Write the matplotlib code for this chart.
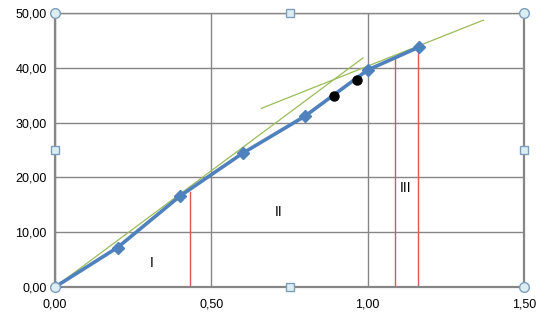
import matplotlib
matplotlib.use("Agg")
import matplotlib.pyplot as plt

# measured curve (blue diamonds)
x_vals = [0.0, 0.2, 0.4, 0.6, 0.8, 1.0, 1.165]
y_vals = [0.0, 7.2, 16.6, 24.4, 31.2, 39.6, 43.8]

# extra black points
dot_x = [0.892, 0.966]
dot_y = [34.8, 37.7]

# tangent lines (green)
tan1_x = [0.0, 0.985]
tan1_y = [0.0, 41.8]
tan2_x = [0.66, 1.37]
tan2_y = [32.6, 48.7]

# red vertical markers: x position and top
red_x = [0.433, 1.087, 1.162]
red_top = [17.4, 42.0, 43.8]

# zone labels
zone_text = ["I", "II", "III"]
zone_x = [0.31, 0.715, 1.12]
zone_y = [4.3, 13.6, 18.0]

x_ticks = [0.0, 0.5, 1.0, 1.5]
y_ticks = [0, 10, 20, 30, 40, 50]

plt.rcParams['font.family'] = ['Liberation Sans', 'DejaVu Sans']

fig = plt.figure(figsize=(5.43, 3.16), dpi=100)
ax = fig.add_axes([55 / 543, 29 / 316, 469 / 543, 274 / 316])

ax.set_xlim(0, 1.5)
ax.set_ylim(0, 50)
ax.set_xticks(x_ticks)
ax.set_yticks(y_ticks)
ax.set_xticklabels([f"{v:.2f}".replace(".", ",") for v in x_ticks])
ax.set_yticklabels([f"{v:.2f}".replace(".", ",") for v in y_ticks])
ax.tick_params(axis='both', length=0, labelsize=9, colors='black', pad=6)
ax.tick_params(axis='x', pad=8)
ax.grid(True, color='#868686', linewidth=1.0)
ax.set_axisbelow(True)
for side in ['left', 'right', 'bottom']:
    ax.spines[side].set_color('#868686')
    ax.spines[side].set_linewidth(1.6)
ax.spines['top'].set_color('#868686')
ax.spines['top'].set_linewidth(1.0)

# red verticals
for rx, rt in zip(red_x, red_top):
    ax.plot([rx, rx], [0, rt], color='#d9595b', linewidth=1.0, zorder=2)

# green tangents
ax.plot(tan1_x, tan1_y, color='#9bbb59', linewidth=0.9, zorder=3)
ax.plot(tan2_x, tan2_y, color='#9bbb59', linewidth=0.9, zorder=3)

# main curve
ax.plot(x_vals, y_vals, color='#4f81bd', linewidth=2.6, marker='D',
        markersize=6.5, markerfacecolor='#4f81bd', markeredgecolor='#4f81bd',
        zorder=4)

ax.plot(dot_x, dot_y, 'o', color='black', markersize=6.5, zorder=5)

for t, zx, zy in zip(zone_text, zone_x, zone_y):
    ax.text(zx, zy, t, fontsize=10, ha='center', va='center', color='black')

# selection handles of the chart area
handle_kw = dict(markerfacecolor='#dbeef4', markeredgecolor='#7f9db9',
                 clip_on=False, zorder=6, linestyle='none')
ax.plot([0, 1.5, 0, 1.5], [0, 0, 50, 50], marker='o', markersize=7,
        **handle_kw)
ax.plot([0.75, 0.75, 0, 1.5], [0, 50, 25, 25], marker='s', markersize=6,
        **handle_kw)

fig.savefig("out.png", dpi=100)
